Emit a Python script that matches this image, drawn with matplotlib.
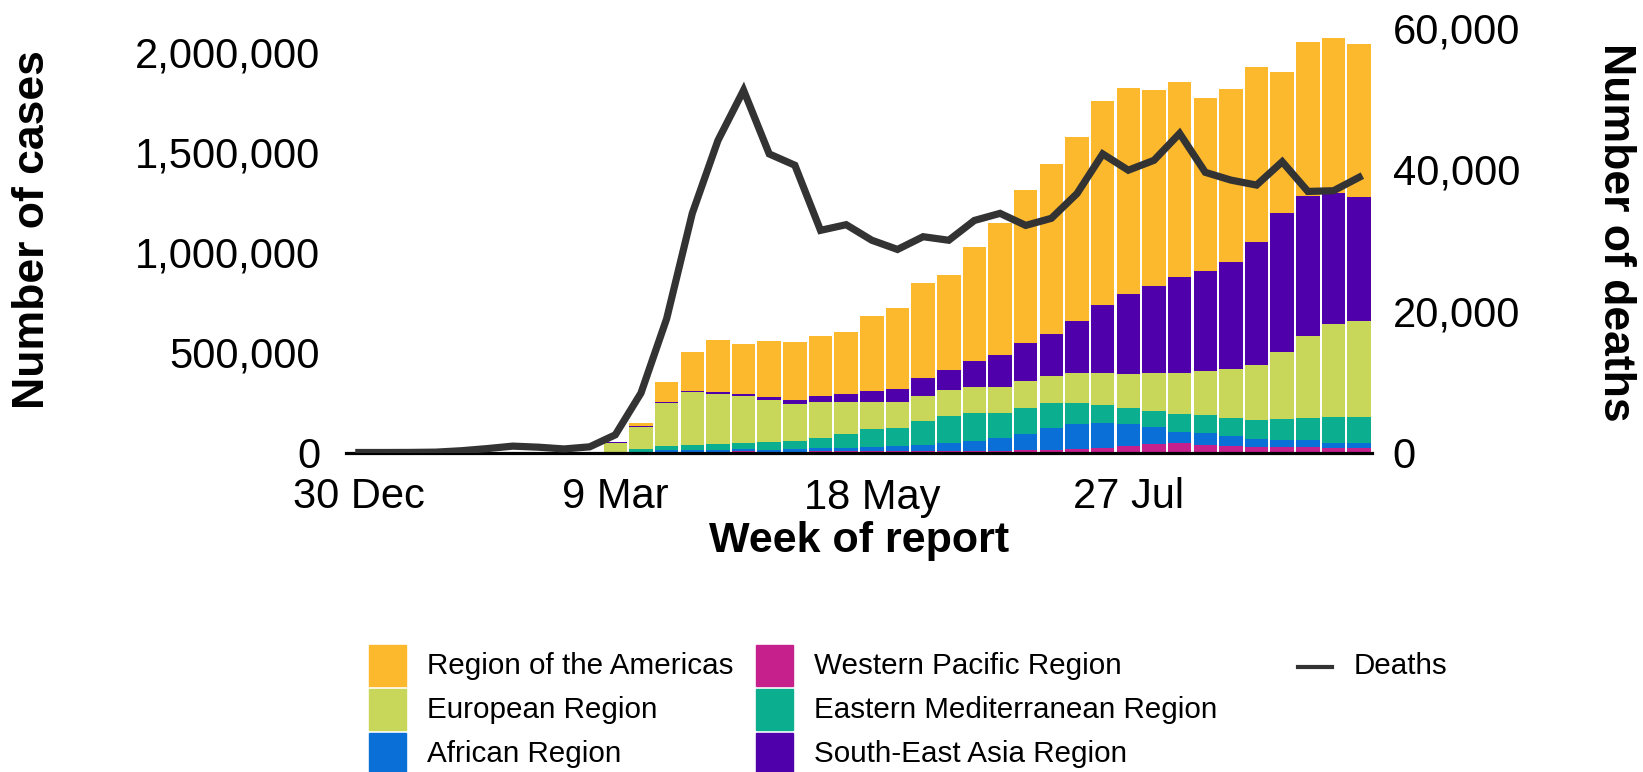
import numpy as np
import matplotlib.pyplot as plt
from matplotlib.patches import Rectangle
from matplotlib.lines import Line2D

plt.rcParams['font.family'] = ['Liberation Sans', 'DejaVu Sans']

# Semanas de reporte (40 semanas desde el 30 Dec)
n_weeks = 40
tick_pos = [0, 10, 20, 30]
tick_labels = ['30 Dec', '9 Mar', '18 May', '27 Jul']

# Casos semanales por región (miles); semanas 0-9 sin casos visibles
zeros = [0] * 10
americas = zeros + [0, 17, 97, 191, 258, 249, 278, 291, 296, 308, 374, 404, 474, 475, 567, 660,
                    765, 848, 918, 1019, 1026, 976, 977, 863, 861, 873, 703, 767, 770, 762]
european = zeros + [45, 113, 213, 262, 251, 233, 208, 186, 183, 160, 135, 130, 125, 130, 130, 130,
                    135, 136, 153, 161, 170, 191, 208, 221, 244, 274, 336, 405, 465, 480]
african = zeros + [1, 2, 8, 9, 8, 10, 10, 14, 16, 18, 22, 26, 33, 40, 50, 64,
                   80, 110, 125, 122, 110, 85, 58, 58, 47, 38, 33, 33, 28, 24]
western_pacific = zeros + [0, 1, 4, 4, 4, 5, 4, 4, 5, 5, 5, 5, 6, 7, 7, 8,
                           10, 14, 15, 24, 34, 44, 45, 38, 33, 29, 29, 28, 21, 24]
eastern_med = zeros + [3, 12, 20, 25, 28, 33, 38, 38, 50, 68, 88, 90, 116, 133, 141, 125,
                       133, 121, 105, 91, 80, 78, 87, 91, 91, 95, 105, 113, 127, 127]
south_east_asia = zeros + [1, 2, 8, 8, 12, 10, 17, 20, 30, 40, 56, 68, 93, 103, 128, 158,
                           186, 209, 259, 338, 399, 434, 476, 499, 537, 615, 690, 703, 655, 620]

# Muertes semanales (miles)
deaths = [0.0, 0.0, 0.01, 0.05, 0.25, 0.55, 0.9, 0.75, 0.5, 0.8,
          2.5, 8.4, 18.9, 33.8, 44.1, 51.2, 42.2, 40.6, 31.4, 32.2,
          30.0, 28.7, 30.5, 30.0, 32.8, 33.8, 32.1, 33.1, 36.6, 42.2,
          39.9, 41.3, 45.1, 39.6, 38.5, 37.8, 41.1, 36.9, 37.0, 38.9]

# Orden de apilado (de abajo hacia arriba)
series = [
    ('Western Pacific Region', western_pacific, '#C5208C'),
    ('African Region', african, '#0B6FD8'),
    ('Eastern Mediterranean Region', eastern_med, '#0BAE8E'),
    ('European Region', european, '#C8D75A'),
    ('South-East Asia Region', south_east_asia, '#5000AA'),
    ('Region of the Americas', americas, '#FDB92E'),
]
colores = {nombre: c for nombre, _, c in series}

W, H = 1643, 772
fig = plt.figure(figsize=(W / 100, H / 100), dpi=100)
ax = fig.add_axes([346 / W, 1 - 452.5 / H, (1372 - 346) / W, (452.5 - 28) / H])

x = np.arange(n_weeks)
base = np.zeros(n_weeks)
for nombre, vals, color in series:
    v = np.array(vals) * 1000
    ax.bar(x, v, width=0.917, bottom=base, color=color, linewidth=0)
    base += v

ax.set_xlim(-0.5, n_weeks - 0.5)
ax.set_ylim(0, 2118000)
ax.set_yticks([0, 500000, 1000000, 1500000, 2000000])
ax.set_yticklabels(['0', '500,000', '1,000,000', '1,500,000', '2,000,000'])
ax.set_xticks(tick_pos)
ax.set_xticklabels(tick_labels)
ax.tick_params(axis='y', length=0, labelsize=30, pad=18.7)
ax.tick_params(axis='x', length=0, labelsize=30, pad=18)
for s in ['top', 'left', 'right']:
    ax.spines[s].set_visible(False)
ax.spines['bottom'].set_linewidth(2.3)
ax.spines['bottom'].set_color('black')

ax2 = ax.twinx()
ax2.plot(x, np.array(deaths) * 1000, color='#333333', linewidth=5.2, solid_joinstyle='miter')
ax2.set_ylim(0, 60000)
ax2.set_yticks([0, 20000, 40000, 60000])
ax2.set_yticklabels(['0', '20,000', '40,000', '60,000'])
ax2.tick_params(axis='y', length=0, labelsize=30, pad=15)
for s in ax2.spines.values():
    s.set_visible(False)

# Títulos de ejes
fig.text(32.5 / W, 1 - 230 / H, 'Number of cases', rotation=90, ha='center', va='center',
         fontsize=32, fontweight='bold')
fig.text(1615 / W, 1 - 232 / H, 'Number of deaths', rotation=270, ha='center', va='center',
         fontsize=32, fontweight='bold')
fig.text(859 / W, 1 - 541 / H, 'Week of report', ha='center', va='center',
         fontsize=31, fontweight='bold')

# Leyenda manual en tres columnas
leyenda = [
    ['Region of the Americas', 'European Region', 'African Region'],
    ['Western Pacific Region', 'Eastern Mediterranean Region', 'South-East Asia Region'],
]
col_x = [369, 756]
fila_y = [666, 710, 754]
for ci, col in enumerate(leyenda):
    for ri, nombre in enumerate(col):
        fig.patches.append(Rectangle((col_x[ci] / W, 1 - (fila_y[ri] + 20) / H), 37 / W, 41 / H,
                                     transform=fig.transFigure, color=colores[nombre]))
        fig.text((col_x[ci] + 58) / W, 1 - fila_y[ri] / H, nombre, ha='left', va='center',
                 fontsize=21.3)
fig.lines.append(Line2D([1298 / W, 1332 / W], [1 - 667 / H, 1 - 667 / H], transform=fig.transFigure,
                        color='#333333', linewidth=3))
fig.text(1354 / W, 1 - 666 / H, 'Deaths', ha='left', va='center', fontsize=21.3)

fig.savefig('out.png', dpi=100)
